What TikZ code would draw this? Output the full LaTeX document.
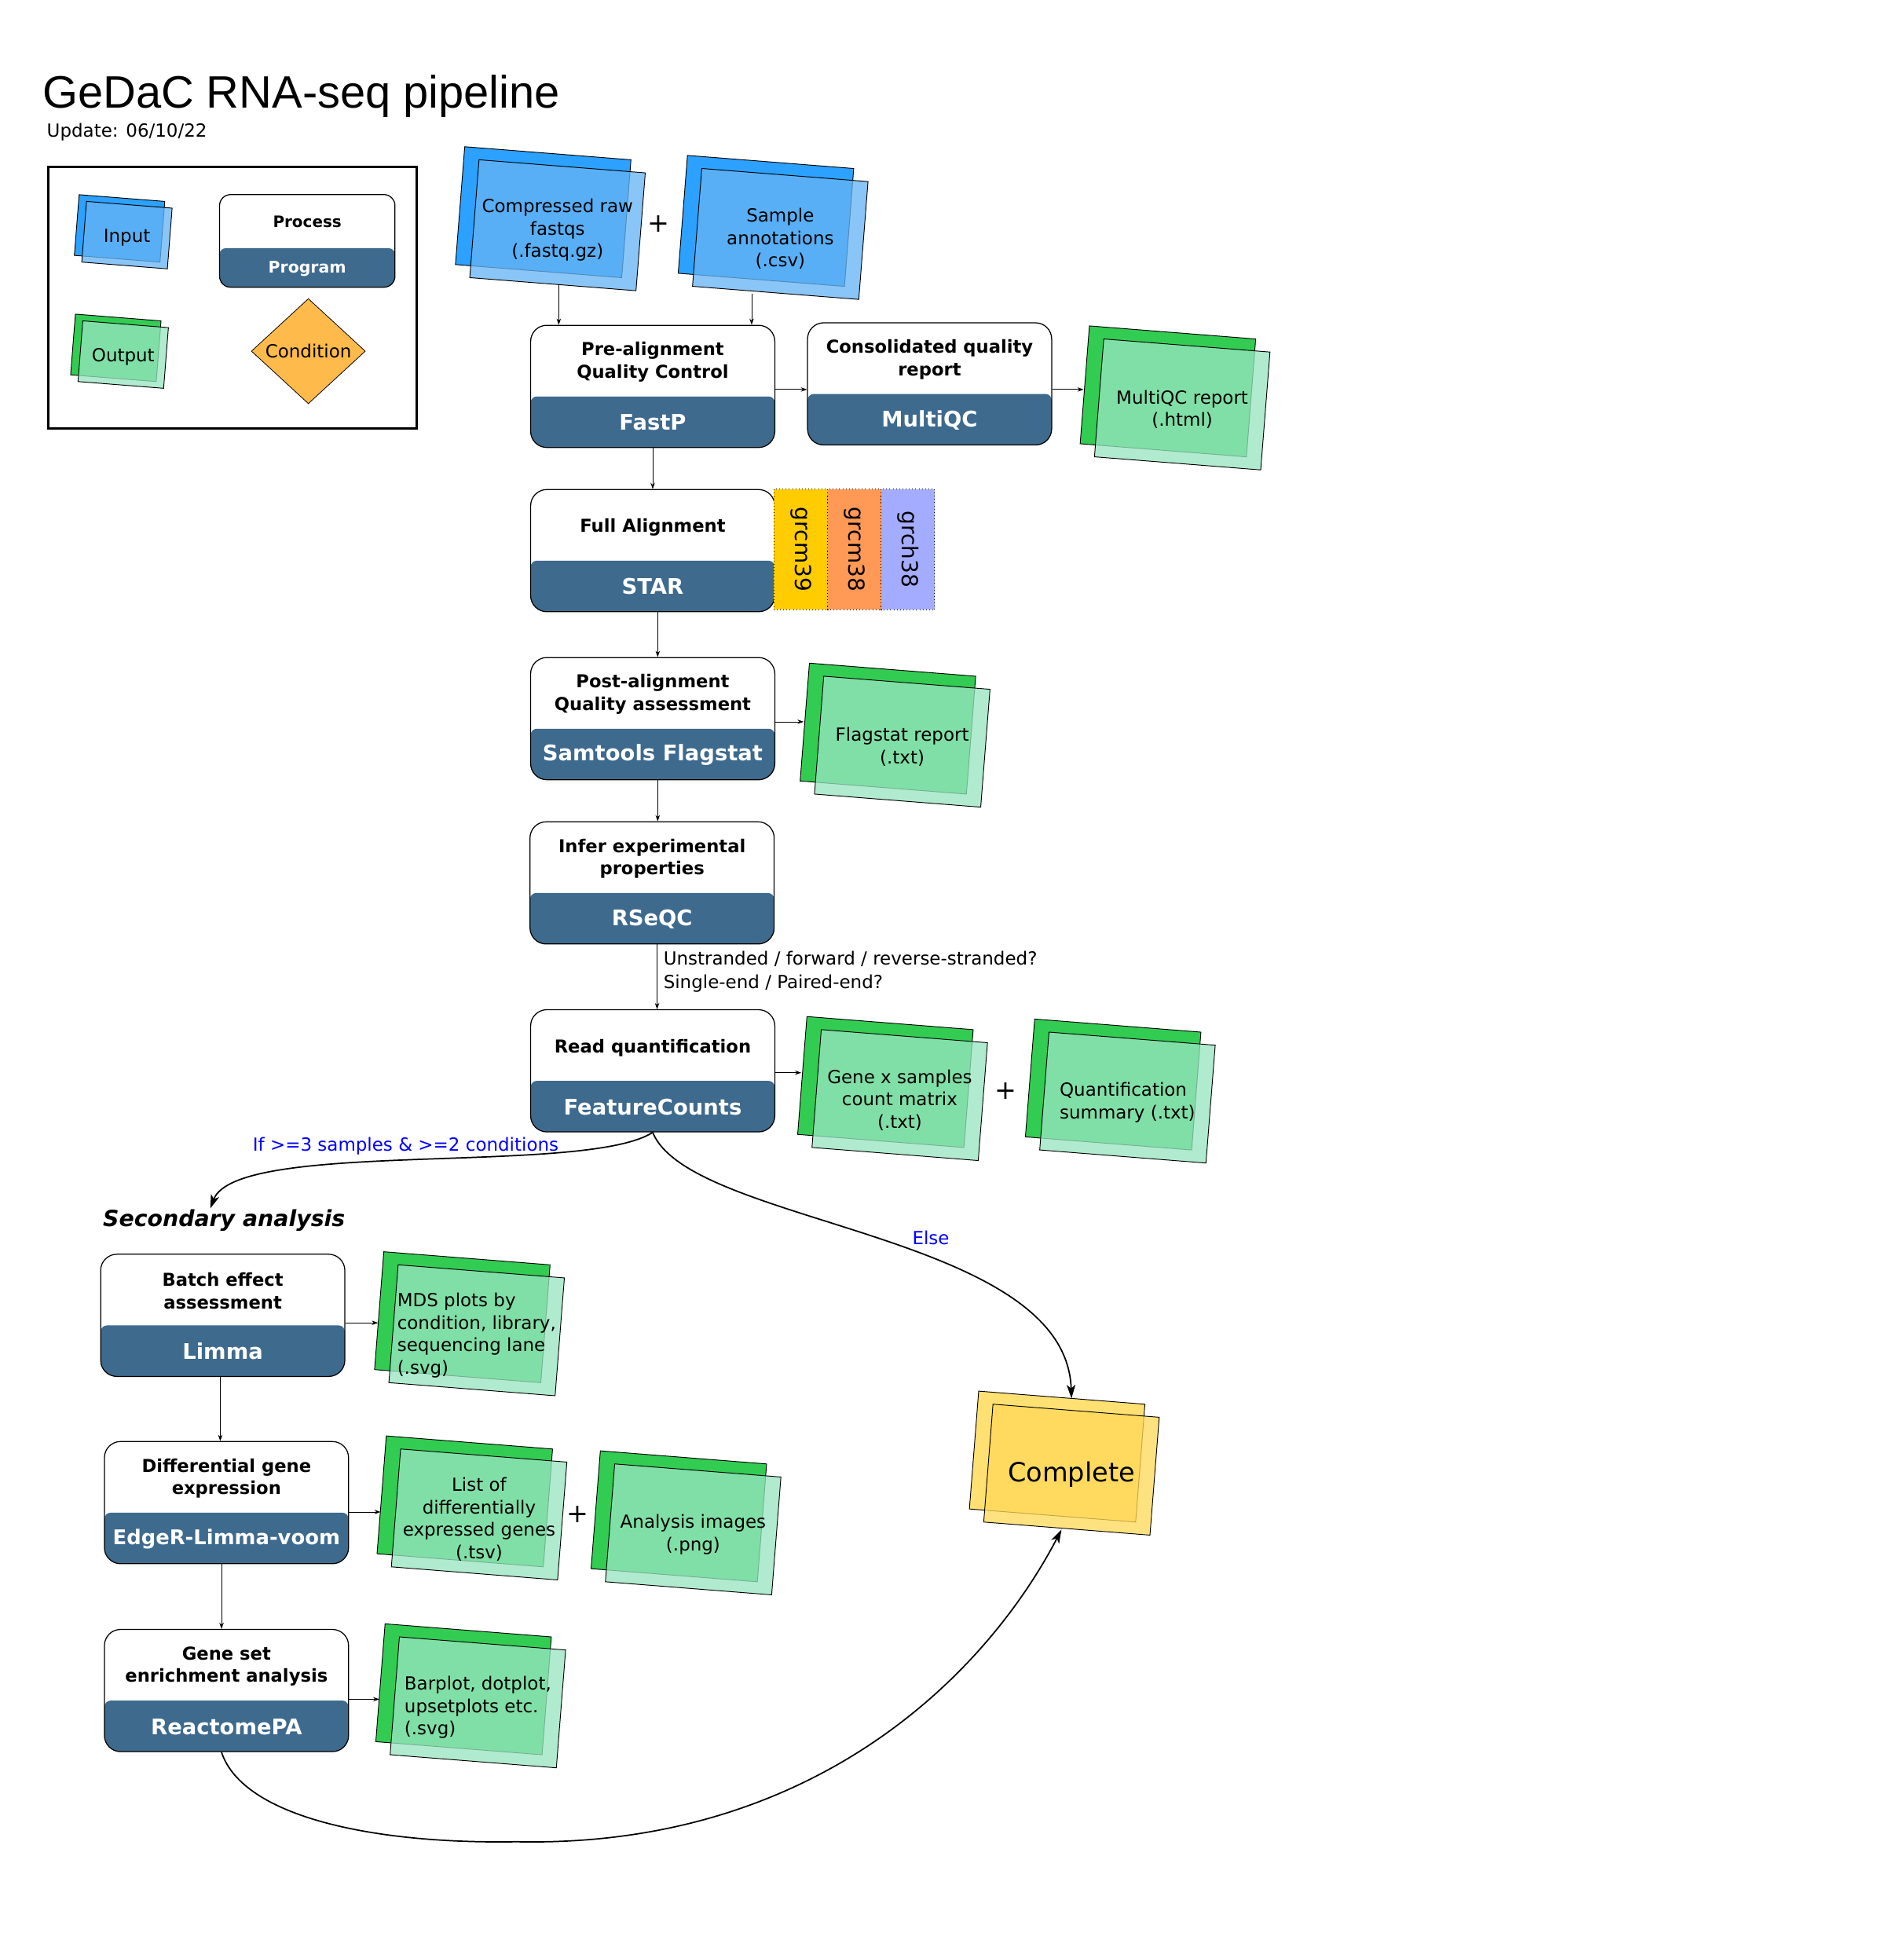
\documentclass[tikz,border=0pt]{standalone}
\usepackage{fontspec}
\setmainfont{DejaVu Sans}
\newfontfamily\titlefamily{Liberation Sans}
\usetikzlibrary{arrows.meta,shapes.geometric,backgrounds}

\definecolor{progblue}{RGB}{62,106,142}
\definecolor{inback}{RGB}{44,161,255}
\definecolor{infront}{RGB}{102,180,243}
\definecolor{outback}{RGB}{51,204,82}
\definecolor{outfront}{RGB}{152,229,192}
\definecolor{doneback}{RGB}{255,224,115}
\definecolor{donefront}{RGB}{255,217,90}
\definecolor{condfill}{RGB}{255,186,76}
\definecolor{grcmA}{RGB}{255,204,0}
\definecolor{grcmB}{RGB}{255,153,85}
\definecolor{grchA}{RGB}{164,172,255}

\newcommand{\docfont}{\fontsize{14.5}{18}\selectfont}

\newcommand{\docpaper}[4]{%
  \begin{scope}[on background layer, shift={(#1.center)}, shift={(0,-4*#4)}, scale=#4]
    \draw[fill=#2, line width=0.6pt, shift={(-11.5,-10.5)}, rotate=-4.5] (-67,-47.5) rectangle (67,47.5);
    \draw[fill=#3, fill opacity=0.77, line width=0.6pt, rotate=-4.5] (-67,-47.5) rectangle (67,47.5);
  \end{scope}}

\tikzset{
  procbox/.style={draw=black, line width=0.8pt, rounded corners=13pt, fill=white,
    minimum width=196.2pt, minimum height=98.2pt, inner sep=0pt,
    path picture={\fill[progblue, rounded corners=5pt]
      ([yshift=#1]path picture bounding box.south west) rectangle ([yshift=-20pt]path picture bounding box.south east);}},
  procbox/.default=41pt,
  boxtitle/.style={font=\bfseries\fontsize{14.3}{18}\selectfont, align=center, inner sep=0pt},
  progname/.style={font=\bfseries\fontsize{17.3}{20}\selectfont, text=white, inner sep=0pt},
  doc/.style={font=\docfont, align=center, minimum width=158pt, minimum height=88pt, inner sep=2pt},
  strip/.style={draw=black, dotted, line width=0.6pt, rotate=-90, minimum width=97pt, minimum height=43pt,
    inner sep=0pt, font=\fontsize{17.7}{20}\selectfont},
  flow/.style={-{Stealth[length=5pt,width=3.5pt]}, line width=0.5pt},
  branch/.style={-{Stealth[length=11pt,width=7pt,inset=3pt]}, line width=1.1pt},
  plus/.style={font=\fontsize{21}{24}\selectfont, inner sep=0pt}
}

\begin{document}
\begin{tikzpicture}[x=1pt, y=-1pt]
\useasboundingbox (0,0) rectangle (1530,1562.2);

\node[anchor=base west, inner sep=0pt, font=\titlefamily\fontsize{36.5}{40}\selectfont] (title) at (34,87) {GeDaC RNA-seq pipeline};
\node[anchor=base west, inner sep=0pt, font=\docfont] (update) at (37.5,110) {Update: 06/10/22};

\node[draw=black, line width=1.8pt, minimum width=295.6pt, minimum height=209.8pt] (legend) at (186.8,239.2) {};
\node[doc, minimum width=80pt, minimum height=50pt] (lg-in) at (102,191) {Input};
\node[doc, minimum width=80pt, minimum height=50pt] (lg-out) at (99,287) {Output};
\node[procbox=31.4pt, minimum width=141pt, minimum height=74.5pt, rounded corners=9pt] (lg-proc) at (246.9,193.6) {};
\node[boxtitle, font=\bfseries\fontsize{12.6}{15}\selectfont] (lg-proc-t) at ([yshift=-22.5pt]lg-proc.north) {Process};
\node[progname, font=\bfseries\fontsize{12.9}{15}\selectfont] (lg-proc-p) at ([yshift=15.2pt]lg-proc.south) {Program};
\node[diamond, draw=black, line width=0.5pt, fill=condfill, minimum width=91.6pt, minimum height=84.5pt, inner sep=0pt, font=\docfont] (lg-cond) at (247.8,282.2) {Condition};

\node[doc] (fastq) at (448,185) {Compressed raw\\fastqs\\(.fastq.gz)};
\node[plus] (plus1) at (529,180) {+};
\node[doc] (annot) at (627,192) {Sample\\annotations\\(.csv)};

\node[procbox] (qc) at (524.5,310.5) {};
\node[boxtitle] (qc-t) at ([yshift=-30pt]qc.north) {Pre-alignment\\Quality Control};
\node[progname] (qc-p) at ([yshift=20.5pt]qc.south) {FastP};

\node[procbox] (mqc) at (747,308.5) {};
\node[boxtitle] (mqc-t) at ([yshift=-30pt]mqc.north) {Consolidated quality\\report};
\node[progname] (mqc-p) at ([yshift=20.5pt]mqc.south) {MultiQC};

\node[doc] (mqcrep) at (950,329) {MultiQC report\\(.html)};

\node[procbox] (aln) at (524.5,442.5) {};
\node[boxtitle] (aln-t) at ([yshift=-31pt]aln.north) {Full Alignment};
\node[progname] (aln-p) at ([yshift=20.5pt]aln.south) {STAR};

\node[strip, fill=grcmA] (grcm39) at (643.5,441.5) {grcm39};
\node[strip, fill=grcmB] (grcm38) at (686.5,441.5) {grcm38};
\node[strip, fill=grchA] (grch38) at (729.5,441.5) {grch38};

\node[procbox] (pqa) at (524.5,577.5) {};
\node[boxtitle] (pqa-t) at ([yshift=-30pt]pqa.north) {Post-alignment\\Quality assessment};
\node[progname] (pqa-p) at ([yshift=20.5pt]pqa.south) {Samtools Flagstat};

\node[doc] (flagstat) at (725,600) {Flagstat report\\(.txt)};

\node[procbox] (inf) at (524,709.5) {};
\node[boxtitle] (inf-t) at ([yshift=-30pt]inf.north) {Infer experimental\\properties};
\node[progname] (inf-p) at ([yshift=20.5pt]inf.south) {RSeQC};

\node[anchor=west, align=left, inner sep=0pt, font=\fontsize{14.5}{19.3}\selectfont] (strand) at (533,781) {Unstranded / forward / reverse-stranded?\\Single-end / Paired-end?};

\node[procbox] (rq) at (524.5,860.5) {};
\node[boxtitle] (rq-t) at ([yshift=-31pt]rq.north) {Read quantification};
\node[progname] (rq-p) at ([yshift=20.5pt]rq.south) {FeatureCounts};

\node[doc] (counts) at (723,884) {Gene x samples\\count matrix\\(.txt)};
\node[plus] (plus2) at (808,877) {+};
\node[doc, align=left] (qsum) at (906,886) {Quantification\\summary (.txt)};

\node[font=\docfont, text=blue, inner sep=1pt] (yes) at (326,921) {If >=3 samples \& >=2 conditions};
\node[font=\bfseries\itshape\fontsize{17.9}{21}\selectfont, inner sep=1pt] (sec) at (180,981) {Secondary analysis};
\node[font=\docfont, text=blue, inner sep=1pt] (no) at (748,995) {Else};

\node[procbox] (bea) at (179,1057) {};
\node[boxtitle] (bea-t) at ([yshift=-30pt]bea.north) {Batch effect\\assessment};
\node[progname] (bea-p) at ([yshift=20.5pt]bea.south) {Limma};

\node[doc, align=left] (mds) at (383,1073) {MDS plots by\\condition, library,\\sequencing lane\\(.svg)};

\node[procbox] (dge) at (182,1207.5) {};
\node[boxtitle] (dge-t) at ([yshift=-30pt]dge.north) {Differential gene\\expression};
\node[progname, font=\bfseries\fontsize{16.3}{20}\selectfont] (dge-p) at ([yshift=20.5pt]dge.south) {EdgeR-Limma-voom};

\node[doc] (degs) at (385,1221) {List of\\differentially\\expressed genes\\(.tsv)};
\node[plus] (plus3) at (464,1217) {+};
\node[doc] (images) at (557,1233) {Analysis images\\(.png)};

\node[procbox] (gsea) at (182,1358.5) {};
\node[boxtitle] (gsea-t) at ([yshift=-30pt]gsea.north) {Gene set\\enrichment analysis};
\node[progname] (gsea-p) at ([yshift=20.5pt]gsea.south) {ReactomePA};

\node[doc, align=left] (plots) at (384,1372) {Barplot, dotplot,\\upsetplots etc.\\(.svg)};

\node[doc, font=\fontsize{21.2}{25}\selectfont] (done) at (861,1185) {Complete};

\docpaper{lg-in}{inback}{infront}{0.515}
\docpaper{lg-out}{outback}{outfront}{0.515}
\docpaper{fastq}{inback}{infront}{1}
\docpaper{annot}{inback}{infront}{1}
\docpaper{mqcrep}{outback}{outfront}{1}
\docpaper{flagstat}{outback}{outfront}{1}
\docpaper{counts}{outback}{outfront}{1}
\docpaper{qsum}{outback}{outfront}{1}
\docpaper{mds}{outback}{outfront}{1}
\docpaper{degs}{outback}{outfront}{1}
\docpaper{images}{outback}{outfront}{1}
\docpaper{plots}{outback}{outfront}{1}
\docpaper{done}{doneback}{donefront}{1}

\draw[flow] ([xshift=1pt]fastq.south) -- ([xshift=1pt]fastq.south |- qc.north);
\draw[flow] ([xshift=-23pt]annot.south) -- ([xshift=-23pt]annot.south |- qc.north);
\draw[flow] ([yshift=-2.5pt]qc.east) -- ([yshift=-2.5pt]qc.east -| mqc.west);
\draw[flow] ([yshift=-4.5pt]mqc.east) -- ([yshift=-4.5pt]mqc.east -| mqcrep.west);
\draw[flow] (qc.south) -- (aln.north);
\draw[flow] ([xshift=4pt]aln.south) -- ([xshift=4pt]aln.south |- pqa.north);
\draw[flow] ([yshift=-2.5pt]pqa.east) -- ([yshift=-2.5pt]pqa.east -| flagstat.west);
\draw[flow] ([xshift=4pt]pqa.south) -- ([xshift=4pt]pqa.south |- inf.north);
\draw[flow] ([xshift=4pt]inf.south) -- ([xshift=4pt]inf.south |- rq.north);
\draw[flow] ([yshift=-1.5pt]rq.east) -- ([yshift=-1.5pt]rq.east -| counts.west);
\draw[flow] ([yshift=-6pt]bea.east) -- ([yshift=-6pt]bea.east -| mds.west);
\draw[flow] ([xshift=-2pt]bea.south) -- ([xshift=-2pt]bea.south |- dge.north);
\draw[flow] ([yshift=-7.5pt]dge.east) -- ([yshift=-7.5pt]dge.east -| degs.west);
\draw[flow] ([xshift=-4pt]dge.south) -- ([xshift=-4pt]dge.south |- gsea.north);
\draw[flow] ([yshift=-7pt]gsea.east) -- ([yshift=-7pt]gsea.east -| plots.west);

\draw[branch] (rq.south) .. controls (470,945) and (190,915) .. ([xshift=-11pt]sec.north);
\draw[branch] (rq.south) .. controls (555,985) and (857,990) .. ([yshift=17pt]done.north);
\draw[branch] ([xshift=-4pt]gsea.south) .. controls (195,1460) and (300,1482) .. (415,1480) .. controls (650,1485) and (790,1350) .. ([xshift=-8pt]done.south);
\end{tikzpicture}
\end{document}
